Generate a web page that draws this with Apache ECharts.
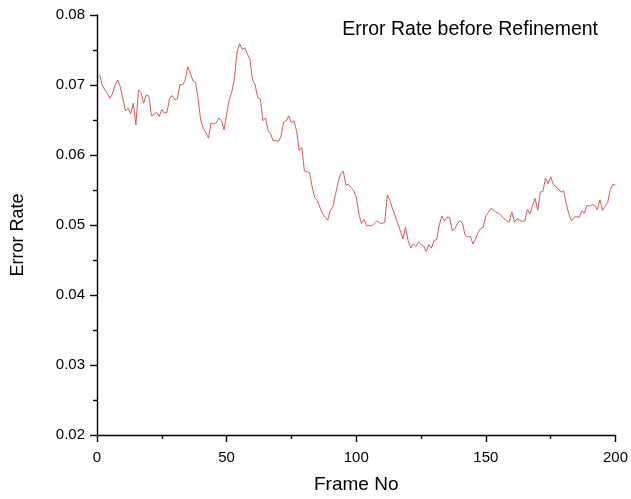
<!DOCTYPE html>
<html>
<head>
<meta charset="utf-8">
<script src="https://cdn.jsdelivr.net/npm/echarts@6/dist/echarts.min.js"></script>
<style>html,body{margin:0;padding:0;background:#fff}#c{width:631px;height:499px}</style>
</head>
<body>
<div id="c"></div>
<script>
const titleText = 'Error Rate before Refinement';
const xName = 'Frame No';
const yName = 'Error Rate';
const startFrame = 1;
const errorRate = [
  0.0715,0.0700,0.0693,0.0688,0.0681,0.0688,0.0700,0.0707,0.0697,0.0680,
  0.0663,0.0667,0.0659,0.0674,0.0643,0.0693,0.0689,0.0674,0.0686,0.0684,
  0.0656,0.0658,0.0661,0.0655,0.0665,0.0660,0.0661,0.0681,0.0685,0.0679,
  0.0680,0.0701,0.0700,0.0707,0.0726,0.0717,0.0706,0.0704,0.0681,0.0650,
  0.0638,0.0632,0.0624,0.0646,0.0644,0.0646,0.0653,0.0649,0.0636,0.0658,
  0.0679,0.0690,0.0709,0.0747,0.0759,0.0751,0.0753,0.0744,0.0737,0.0707,
  0.0700,0.0682,0.0680,0.0649,0.0653,0.0635,0.0630,0.0620,0.0621,0.0619,
  0.0627,0.0647,0.0649,0.0656,0.0646,0.0649,0.0634,0.0606,0.0611,0.0577,
  0.0576,0.0575,0.0554,0.0539,0.0535,0.0525,0.0516,0.0511,0.0507,0.0521,
  0.0526,0.0544,0.0561,0.0573,0.0577,0.0557,0.0558,0.0554,0.0549,0.0540,
  0.0516,0.0502,0.0508,0.0499,0.0499,0.0499,0.0502,0.0506,0.0503,0.0502,
  0.0504,0.0543,0.0535,0.0523,0.0513,0.0502,0.0492,0.0480,0.0497,0.0478,
  0.0467,0.0473,0.0469,0.0476,0.0472,0.0470,0.0462,0.0472,0.0467,0.0478,
  0.0479,0.0499,0.0513,0.0506,0.0511,0.0511,0.0492,0.0494,0.0502,0.0506,
  0.0502,0.0485,0.0483,0.0484,0.0473,0.0480,0.0489,0.0495,0.0497,0.0513,
  0.0518,0.0524,0.0521,0.0518,0.0517,0.0513,0.0509,0.0506,0.0504,0.0519,
  0.0504,0.0509,0.0507,0.0505,0.0506,0.0522,0.0516,0.0528,0.0538,0.0521,
  0.0547,0.0548,0.0567,0.0559,0.0569,0.0558,0.0555,0.0551,0.0547,0.0549,
  0.0530,0.0516,0.0506,0.0511,0.0512,0.0511,0.0520,0.0517,0.0528,0.0527,
  0.0529,0.0528,0.0522,0.0536,0.0521,0.0527,0.0532,0.0551,0.0558,0.0557
];
const xMin = 0, xMax = 200, xStep = 50;
const yMin = 0.02, yMax = 0.08, yStep = 0.01;

const seriesData = errorRate.map((v, i) => [startFrame + i, v]);
const font = 'Liberation Sans, Arial, sans-serif';
const chart = echarts.init(document.getElementById('c'), null, {renderer: 'canvas'});
chart.setOption({
  animation: false,
  backgroundColor: '#fff',
  title: {
    text: titleText, right: 28, top: 15,
    textStyle: {fontFamily: font, fontSize: 19.5, fontWeight: 'normal', color: '#000'}
  },
  grid: {left: 97, right: 13, top: 15, bottom: 61, containLabel: false},
  xAxis: {
    type: 'value', min: xMin, max: xMax, interval: xStep,
    name: xName, nameLocation: 'middle', nameGap: 40,
    nameTextStyle: {fontFamily: font, fontSize: 19, color: '#000'},
    axisLine: {onZero: false, lineStyle: {color: '#000', width: 1.4}},
    axisTick: {show: true, inside: false, length: 7, lineStyle: {color: '#000', width: 1.4}},
    minorTick: {show: true, splitNumber: 2, length: 4, lineStyle: {color: '#000', width: 1.4}},
    splitLine: {show: false},
    axisLabel: {fontFamily: font, fontSize: 15, color: '#000', margin: 15}
  },
  yAxis: {
    type: 'value', min: yMin, max: yMax, interval: yStep,
    name: yName, nameLocation: 'middle', nameGap: 70,
    nameTextStyle: {fontFamily: font, fontSize: 18, color: '#000', padding: [0, 20, 0, 0]},
    axisLine: {onZero: false, lineStyle: {color: '#000', width: 1.4}},
    axisTick: {show: true, inside: false, length: 7, lineStyle: {color: '#000', width: 1.4}},
    minorTick: {show: true, splitNumber: 2, length: 4, lineStyle: {color: '#000', width: 1.4}},
    splitLine: {show: false},
    axisLabel: {fontFamily: font, fontSize: 15, color: '#000', margin: 12,
      formatter: v => v.toFixed(2)}
  },
  series: [{
    type: 'line', data: seriesData, showSymbol: false, symbol: 'none',
    lineStyle: {color: '#d65c5c', width: 1},
    clip: false
  }]
});
</script>
</body>
</html>
